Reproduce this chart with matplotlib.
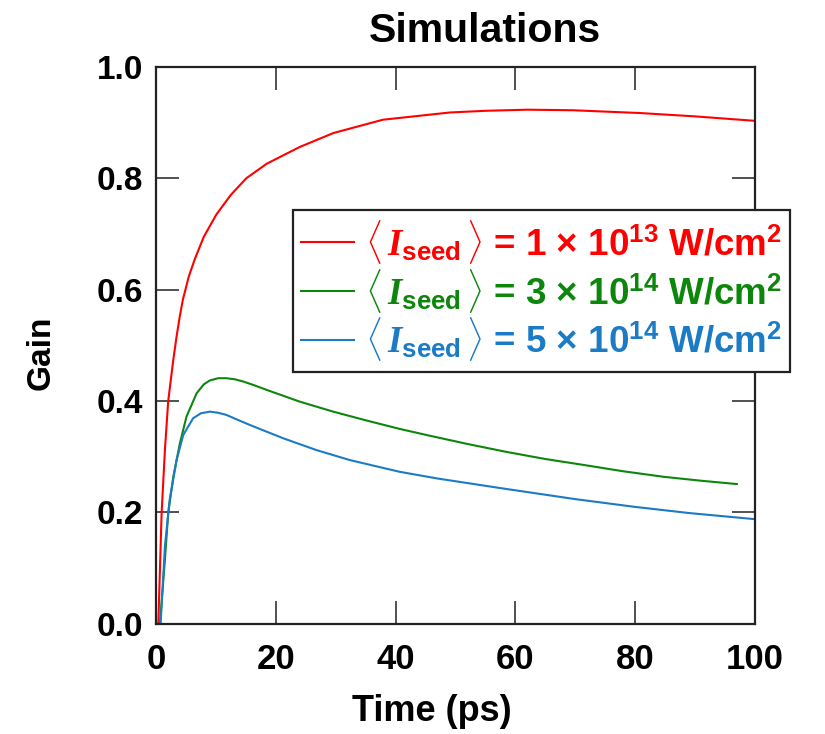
import numpy as np
import matplotlib
matplotlib.use("Agg")
import matplotlib.pyplot as plt

# Gain vs time
t_red = [0, 0.4, 0.95, 1.5, 2.05, 2.9, 3.45, 4.0, 4.5, 5.5, 6.5, 8.0, 10.1, 12.5, 15.1, 18.5,
         24, 29.6, 37.9, 49.1, 55, 62, 69.6, 80.8, 90, 100]
g_red = [0, 0, 0.199, 0.312, 0.40, 0.474, 0.516, 0.553, 0.582, 0.624, 0.655, 0.695, 0.735, 0.770, 0.800, 0.826,
         0.856, 0.881, 0.905, 0.918, 0.921, 0.923, 0.922, 0.917, 0.911, 0.903]

t_green = [0, 0.67, 1.5, 2.05, 2.9, 4.0, 5.1, 6.8, 8.0, 9.0, 10.4, 11.8, 13.2, 14.6, 16.5, 18.5,
           24, 29.6, 35.2, 40.7, 45.2, 52, 58.4, 65, 71.6, 78, 84.8, 91, 97]
g_green = [0, 0, 0.115, 0.199, 0.264, 0.324, 0.372, 0.414, 0.430, 0.437, 0.441, 0.441, 0.439, 0.435, 0.428, 0.420,
           0.399, 0.381, 0.365, 0.350, 0.339, 0.323, 0.309, 0.296, 0.285, 0.274, 0.264, 0.257, 0.251]

t_blue = [0, 0.78, 1.5, 2.3, 3.45, 4.56, 6.2, 7.5, 9.0, 10.4, 11.8, 13.5, 15.7, 21.3, 26.8, 32.4,
          40.7, 47, 58, 70, 80, 89, 100]
g_blue = [0, 0, 0.139, 0.223, 0.294, 0.339, 0.369, 0.378, 0.381, 0.379, 0.375, 0.367, 0.357, 0.333, 0.312, 0.294,
          0.273, 0.261, 0.243, 0.224, 0.210, 0.199, 0.188]

seed = r"$\langle\,\mathbfit{I}_{\mathbf{seed}}\,\rangle$"
labels = [seed + r" = 1 × 10$^{13}$ W/cm$^{2}$",
          seed + r" = 3 × 10$^{14}$ W/cm$^{2}$",
          seed + r" = 5 × 10$^{14}$ W/cm$^{2}$"]
colors = ["#ff0000", "#0c870c", "#1b7bc4"]

xticks = [0, 20, 40, 60, 80, 100]
yticks = [0.0, 0.2, 0.4, 0.6, 0.8, 1.0]

plt.rcParams["font.family"] = ["Liberation Sans", "DejaVu Sans"]
plt.rcParams["font.weight"] = "bold"
plt.rcParams["mathtext.fontset"] = "custom"
plt.rcParams["mathtext.rm"] = "Liberation Sans:bold"
plt.rcParams["mathtext.bf"] = "Liberation Sans:bold"
plt.rcParams["mathtext.bfit"] = "Liberation Serif:bold:italic"
plt.rcParams["mathtext.it"] = "Liberation Serif:italic"

fig = plt.figure(figsize=(8.25, 7.34), dpi=100)
ax = fig.add_axes([0.189, 0.150, 0.726, 0.759])

ax.plot(t_red, g_red, color=colors[0], lw=1.5, label=labels[0])
ax.plot(t_green, g_green, color=colors[1], lw=1.5, label=labels[1])
ax.plot(t_blue, g_blue, color=colors[2], lw=1.5, label=labels[2])

ax.set_xlim(0, 100)
ax.set_ylim(0, 1.0)
ax.set_xticks(xticks)
ax.set_yticks(yticks)
ax.set_xticklabels([str(v) for v in xticks])
ax.set_yticklabels(["%.1f" % v for v in yticks])
ax.tick_params(direction="in", length=16.5, width=1.2, color="#333333",
               top=True, right=True, labelsize=24)
ax.tick_params(axis="x", pad=14, labelsize=25)
ax.tick_params(axis="y", pad=9)
for sp in ax.spines.values():
    sp.set_linewidth(1.6)
    sp.set_color("#222222")

fig.text(0.524, 0.030, "Time (ps)", ha="center", va="center", fontsize=26, fontweight="bold")
fig.text(0.050, 0.520, "Gain", ha="center", va="center", rotation=90, fontsize=24, fontweight="bold")
fig.text(0.588, 0.958, "Simulations", ha="center", va="center", fontsize=29.5, fontweight="bold")

leg = ax.legend(loc="upper right", bbox_to_anchor=(0.958, 0.714), bbox_transform=fig.transFigure,
                fontsize=26.5, labelcolor="linecolor", fancybox=False, framealpha=1,
                edgecolor="#222222", handlelength=1.45, handletextpad=0.3,
                labelspacing=0.02, borderpad=0.22, borderaxespad=0)
leg.get_frame().set_linewidth(1.6)
leg.set_zorder(5)

fig.savefig("out.png", dpi=100)
